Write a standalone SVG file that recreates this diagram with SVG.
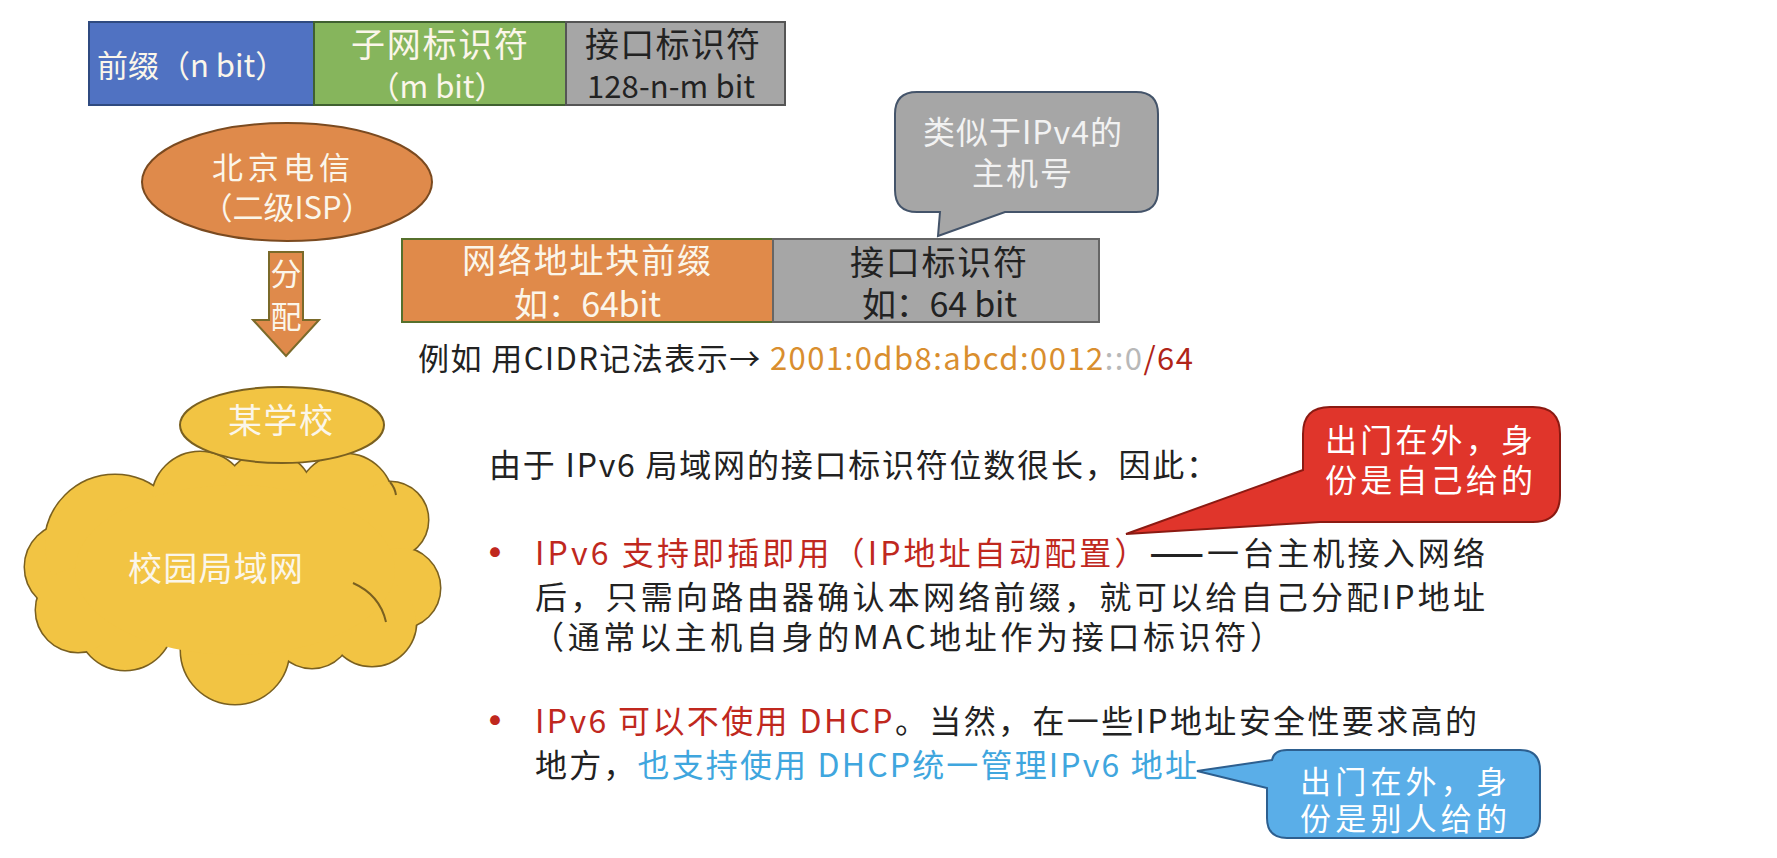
<svg xmlns="http://www.w3.org/2000/svg" width="1777" height="858" viewBox="0 0 1777 858">
<style>
text{font-family:"Noto Sans CJK SC","Noto Sans",sans-serif;}
.w{fill:#fbf6ea;}
.d{fill:#222222;}
.lab{font-size:34px;}
.sm{font-size:31px;}
.co{font-size:32px;}
.body{font-size:32px;}
.red{fill:#c0281e;}
.blue{fill:#3fa6de;}
.bul{font-size:46px;fill:#c0281e;}
.cl{stroke:#7a6020;stroke-width:3;fill:#f2c443;}
.cf{fill:#f2c443;stroke:none;}
</style>
<rect width="1777" height="858" fill="#ffffff"/>

<g id="top-bar">
  <rect x="89" y="22" width="225" height="83" fill="#5072c2" stroke="#2f4a80" stroke-width="2"/>
  <rect x="314" y="22" width="252" height="83" fill="#86b55c" stroke="#3f6030" stroke-width="2"/>
  <rect x="566" y="22" width="219" height="83" fill="#a6a6a6" stroke="#555555" stroke-width="2"/>
  <text class="sm w" x="97" y="77">前缀（n bit）</text>
  <text class="lab w" x="351" y="57" textLength="177" lengthAdjust="spacing">子网标识符</text>
  <text class="sm w" x="437" y="98" text-anchor="middle">（m bit）</text>
  <text class="lab d" x="585" y="57" textLength="175" lengthAdjust="spacing">接口标识符</text>
  <text class="sm d" x="587" y="98" textLength="168" lengthAdjust="spacing">128-n-m bit</text>
</g>

<g id="isp">
  <ellipse cx="287" cy="182" rx="145" ry="59" fill="#df8a4b" stroke="#7a4a20" stroke-width="2"/>
  <text class="sm w" x="212" y="179" textLength="138" lengthAdjust="spacing">北京电信</text>
  <text class="sm w" x="287" y="219" text-anchor="middle">（二级ISP）</text>
</g>

<g id="connectors">
  <g id="alloc-arrow">
    <path d="M269,252 H303 V320 H319 L286,356 L253,320 H269 Z" fill="#df8a4b" stroke="#7a6a2a" stroke-width="2"/>
    <text class="sm w" x="286" y="285" text-anchor="middle">分</text>
    <text class="sm w" x="286" y="328" text-anchor="middle">配</text>
  </g>
</g>

<g id="campus-lan">
  <g>
    <circle class="cl" cx="68" cy="567" r="43"/>
    <circle class="cl" cx="115" cy="545" r="70"/>
    <circle class="cl" cx="200" cy="500" r="48"/>
    <circle class="cl" cx="268" cy="497" r="45"/>
    <circle class="cl" cx="345" cy="502" r="48"/>
    <circle class="cl" cx="390" cy="520" r="38"/>
    <circle class="cl" cx="400" cy="588" r="40"/>
    <circle class="cl" cx="372" cy="622" r="44"/>
    <circle class="cl" cx="312" cy="628" r="40"/>
    <circle class="cl" cx="235" cy="650" r="54"/>
    <circle class="cl" cx="125" cy="622" r="48"/>
    <circle class="cl" cx="78" cy="610" r="42"/>
    <circle class="cf" cx="68" cy="567" r="43"/>
    <circle class="cf" cx="115" cy="545" r="70"/>
    <circle class="cf" cx="200" cy="500" r="48"/>
    <circle class="cf" cx="268" cy="497" r="45"/>
    <circle class="cf" cx="345" cy="502" r="48"/>
    <circle class="cf" cx="390" cy="520" r="38"/>
    <circle class="cf" cx="400" cy="588" r="40"/>
    <circle class="cf" cx="372" cy="622" r="44"/>
    <circle class="cf" cx="312" cy="628" r="40"/>
    <circle class="cf" cx="235" cy="650" r="54"/>
    <circle class="cf" cx="125" cy="622" r="48"/>
    <circle class="cf" cx="78" cy="610" r="42"/>
    <ellipse class="cf" cx="235" cy="570" rx="160" ry="85"/>
    <path d="M353,583 Q380,595 386,622" fill="none" stroke="#7a6020" stroke-width="2"/>
    <path d="M390,482 Q395,488 396,495" fill="none" stroke="#7a6020" stroke-width="2"/>
  </g>
  <text class="lab w" x="128" y="581" textLength="175" lengthAdjust="spacing">校园局域网</text>
</g>

<g id="school">
  <ellipse cx="282" cy="425" rx="102" ry="38" fill="#f2c443" stroke="#7a6020" stroke-width="2"/>
  <text class="lab w" x="228" y="433" textLength="105" lengthAdjust="spacing">某学校</text>
</g>

<g id="addr-bar">
  <rect x="402" y="239" width="371" height="83" fill="#e08a4a" stroke="#56702c" stroke-width="2"/>
  <rect x="773" y="239" width="326" height="83" fill="#a6a6a6" stroke="#666666" stroke-width="2"/>
  <text class="lab w" x="462" y="273" textLength="249" lengthAdjust="spacing">网络地址块前缀</text>
  <text class="lab w" x="514" y="317" textLength="147" lengthAdjust="spacing">如：64bit</text>
  <text class="lab d" x="850" y="275" textLength="177" lengthAdjust="spacing">接口标识符</text>
  <text class="lab d" x="862" y="317" textLength="155" lengthAdjust="spacing">如：64 bit</text>
</g>

<g id="callout-host">
  <path d="M917,92 H1136 Q1158,92 1158,114 V190 Q1158,212 1136,212 H1005 L938,236 L940,212 H917 Q895,212 895,190 V114 Q895,92 917,92 Z" fill="#a6a6a6" stroke="#44546a" stroke-width="2"/>
  <text class="co" fill="#f2f2f2" x="923" y="144" textLength="199" lengthAdjust="spacing">类似于IPv4的</text>
  <text class="co" fill="#f2f2f2" x="972" y="185" textLength="100" lengthAdjust="spacing">主机号</text>
</g>

<g id="cidr-example">
  <text style="font-size:31px" x="418" y="370" textLength="775" lengthAdjust="spacing"><tspan fill="#222222">例如 用CIDR记法表示→ </tspan><tspan fill="#d98e2e">2001:0db8:abcd:0012</tspan><tspan fill="#b8b8b8">::0</tspan><tspan fill="#b02418">/64</tspan></text>
</g>

<g id="text-block">
  <text class="body d" x="489" y="477" textLength="729" lengthAdjust="spacing">由于 IPv6 局域网的接口标识符位数很长，因此：</text>
  <text class="bul" x="495" y="569" text-anchor="middle">•</text>
  <text class="body" x="535" y="565" textLength="950" lengthAdjust="spacing"><tspan class="red">IPv6 支持即插即用（IP地址自动配置）</tspan><tspan class="d" font-weight="bold">——</tspan><tspan class="d">一台主机接入网络</tspan></text>
  <text class="body d" x="535" y="609" textLength="950" lengthAdjust="spacing">后，只需向路由器确认本网络前缀，就可以给自己分配IP地址</text>
  <text class="body d" x="532" y="649" textLength="750" lengthAdjust="spacing">（通常以主机自身的MAC地址作为接口标识符）</text>
  <text class="bul" x="495" y="737" text-anchor="middle">•</text>
  <text class="body" x="535" y="733" textLength="942" lengthAdjust="spacing"><tspan class="red">IPv6 可以不使用 DHCP</tspan><tspan class="d">。当然，在一些IP地址安全性要求高的</tspan></text>
  <text class="body" x="535" y="777" textLength="662" lengthAdjust="spacing"><tspan class="d">地方，</tspan><tspan class="blue">也支持使用 DHCP统一管理IPv6 地址</tspan></text>
</g>

<g id="callout-self">
  <path d="M1330,407 H1533 Q1560,407 1560,434 V495 Q1560,522 1533,522 H1320 L1126,534 L1303,470 V434 Q1303,407 1330,407 Z" fill="#e0352b" stroke="#8b1a12" stroke-width="2"/>
  <text class="co" fill="#ffffff" x="1325" y="452" textLength="208" lengthAdjust="spacing">出门在外，身</text>
  <text class="co" fill="#ffffff" x="1325" y="492" textLength="208" lengthAdjust="spacing">份是自己给的</text>
</g>

<g id="callout-other">
  <path d="M1287,750 H1520 Q1540,750 1540,770 V818 Q1540,838 1520,838 H1287 Q1267,838 1267,818 V788 L1197,771 L1272,760 Q1274,750 1287,750 Z" fill="#5aaee8" stroke="#2d5f8f" stroke-width="2"/>
  <text class="sm" fill="#ffffff" x="1300" y="793" textLength="207" lengthAdjust="spacing">出门在外，身</text>
  <text class="sm" fill="#ffffff" x="1300" y="830" textLength="207" lengthAdjust="spacing">份是别人给的</text>
</g>
</svg>
